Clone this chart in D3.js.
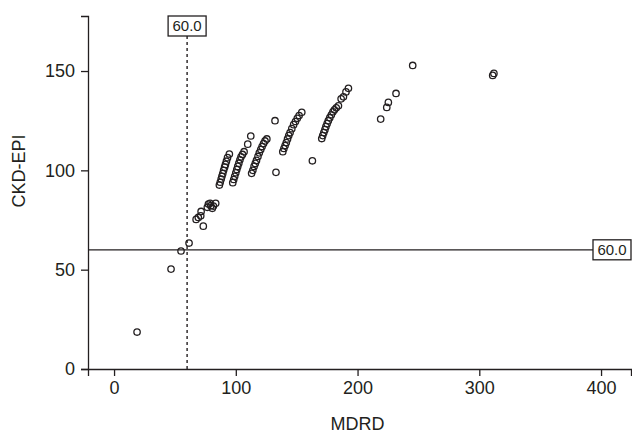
<!DOCTYPE html>
<html>
<head>
<meta charset="utf-8">
<script src="https://cdn.jsdelivr.net/npm/d3@7"></script>
<style>
  body { margin: 0; background: #fff; }
  text { font-family: "Liberation Sans", Arial, sans-serif; fill: #231f20; }
</style>
</head>
<body>
<svg width="632" height="434"></svg>
<script>
// MDRD vs CKD-EPI eGFR values
var mdrd = [18.9, 46.8, 55, 61.6,
  67.4, 69.2, 71.2, 73.3, 71.5, 76.6, 77.5, 78.9, 81.6, 83.5, 80.7, 79.5,
  86.5, 87.2, 88, 88.6, 89.3, 90, 90.8, 91.5, 92.3, 93.2, 94.7,
  97.5, 98.3, 99.1, 100, 100.8, 101.6, 102.5, 103.4, 104.3, 105.5, 106.8, 109.8, 112.3,
  113, 114, 115, 116, 117, 118.2, 119.3, 120.5, 121.6, 122.8, 124, 125.5,
  132.2, 133,
  138.6, 139.5, 140.5, 141.5, 142.5, 143.5, 144.6, 146, 147.5, 149, 150.5, 152, 154.2,
  162.9,
  170.6, 171.4, 172.3, 173.2, 174, 175, 176, 177.2, 178.5, 179.8, 181, 182.5, 184.3, 186.5, 188.4, 190.5, 192.5,
  219, 224, 225.3, 231.6, 245.3, 311, 312];
var ckdEpi = [18.6, 50.3, 59.4, 63.4,
  75.3, 76.3, 77.1, 71.9, 79.3, 81.4, 83, 83.4, 82, 83.4, 80.9, 82.2,
  92.6, 94, 95.6, 97, 98.4, 100, 101.6, 103, 104.6, 106.4, 108.2,
  93.8, 95.4, 97, 98.8, 100.4, 102, 103.6, 105.3, 106.8, 108, 109.4, 113.2, 117.3,
  98.5, 100, 102, 103.5, 105, 107, 108.8, 110.5, 112, 113.5, 114.8, 115.8,
  125, 99,
  109.4, 111, 112.5, 114, 115.8, 117.5, 119, 121, 123, 124.6, 126.2, 127.6, 129.2,
  104.8,
  116, 117.5, 119, 120.5, 122, 123.5, 125, 126.5, 128, 129.5, 130.5, 131.5, 132.5, 136, 137, 139.5, 141.3,
  125.8, 131.7, 134.2, 138.7, 152.8, 147.8, 148.8];

var xTicks = [0, 100, 200, 300, 400];
var yTicks = [0, 50, 100, 150];
var cutoff = 60;

var svg = d3.select("svg");
var margin = {top: 16, right: 1, bottom: 65, left: 88},
  w = 632 - margin.left - margin.right,
  h = 434 - margin.top - margin.bottom;

var g = svg.append("g").attr("transform", "translate(" + margin.left + "," + margin.top + ")");

var x = d3.scaleLinear().domain([-21.4, 424.6]).range([0, w]);
var y = d3.scaleLinear().domain([0, 177.7]).range([h, 0]);

var xAxis = g.append("g")
  .attr("transform", "translate(0," + h + ")")
  .call(d3.axisBottom(x).tickValues(xTicks).tickFormat(d3.format("d")).tickSize(7).tickPadding(5));
var yAxis = g.append("g")
  .call(d3.axisLeft(y).tickValues(yTicks).tickFormat(d3.format("d")).tickSize(7).tickPadding(6));

[xAxis, yAxis].forEach(function(a) {
  a.selectAll("path, line").attr("stroke", "#231f20").attr("stroke-width", 1.3);
  a.selectAll("text").style("font-size", "18px").attr("fill", "#231f20");
});

// reference lines at 60
g.append("line")
  .attr("x1", 0).attr("x2", w - 37)
  .attr("y1", y(cutoff)).attr("y2", y(cutoff))
  .attr("stroke", "#231f20").attr("stroke-width", 1.3);

g.append("line")
  .attr("x1", x(cutoff)).attr("x2", x(cutoff))
  .attr("y1", 20).attr("y2", h)
  .attr("stroke", "#231f20").attr("stroke-width", 1.4)
  .attr("stroke-dasharray", "3,3");

function labelBox(cx, cy) {
  var b = g.append("g").attr("transform", "translate(" + cx + "," + cy + ")");
  b.append("rect").attr("x", -19).attr("y", -10).attr("width", 38).attr("height", 20)
    .attr("fill", "#fff").attr("stroke", "#231f20").attr("stroke-width", 1.3);
  b.append("text").attr("text-anchor", "middle").attr("dy", "0.36em")
    .style("font-size", "15px").text(d3.format(".1f")(cutoff));
}
labelBox(x(cutoff), 10);
labelBox(w - 19, y(cutoff));

// points
g.selectAll("circle.pt")
  .data(mdrd.map(function(d, i) { return [d, ckdEpi[i]]; }))
  .enter().append("circle")
  .attr("class", "pt")
  .attr("cx", function(d) { return x(d[0]); })
  .attr("cy", function(d) { return y(d[1]); })
  .attr("r", 3.2)
  .attr("fill", "none")
  .attr("stroke", "#231f20")
  .attr("stroke-width", 1.3);

// axis titles
svg.append("text")
  .attr("x", margin.left + x(200)).attr("y", 430)
  .attr("text-anchor", "middle").style("font-size", "18px").text("MDRD");
svg.append("text")
  .attr("transform", "translate(25,171) rotate(-90)")
  .attr("text-anchor", "middle").style("font-size", "18px").text("CKD-EPI");
</script>
</body>
</html>
